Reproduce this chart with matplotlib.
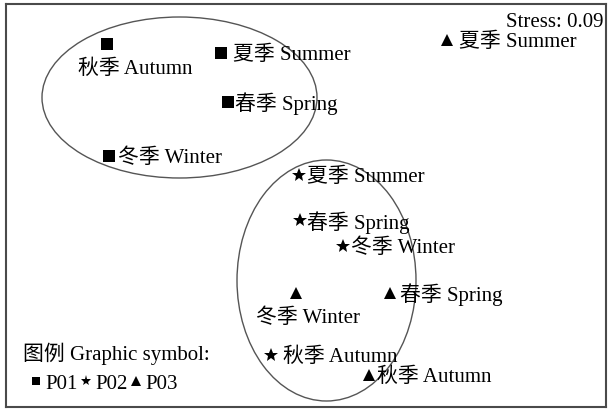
import matplotlib
matplotlib.use('Agg')
import matplotlib.pyplot as plt
from matplotlib.patches import Ellipse
from matplotlib.lines import Line2D

FAMILY = ['Liberation Serif', 'Noto Sans CJK SC', 'DejaVu Sans']
plt.rcParams['font.family'] = FAMILY

# ---- data (NMDS ordination, plot units) ----
seasons = ['春季 Spring', '夏季 Summer', '秋季 Autumn', '冬季 Winter']
groups = ['P01', 'P02', 'P03']
p01_x = [227.5, 221.0, 107.0, 109.0]
p01_y = [307.5, 356.5, 365.0, 253.0]
p02_x = [300.0, 299.0, 271.0, 343.0]
p02_y = [189.0, 234.5, 54.0, 163.5]
p03_x = [390.0, 447.0, 369.0, 296.0]
p03_y = [116.5, 369.0, 34.0, 116.5]
stress = 0.09

# clusters (ellipses): centre x, centre y, width, height
ell_cx = [179.5, 326.5]
ell_cy = [311.5, 128.5]
ell_w = [275.0, 179.0]
ell_h = [161.0, 241.0]

# ---- styling ----
markers = {'P01': 's', 'P02': '*', 'P03': '^'}
msizes = {'P01': 8.5, 'P02': 10.5, 'P03': 8.5}
# label offsets in pixels (dx, dy) relative to marker
label_off = {
    'P01': [(7.5, -1.5), (12, -1.5), (-29, -24), (9, -1.5)],
    'P02': [(7, -1.5), (8, -1.5), (12, -1.5), (7.7, -1.5)],
    'P03': [(10, -1.5), (12, -1.5), (8, -1.5), (-40, -25)],
}
FS = 15

fig = plt.figure(figsize=(6.08, 4.10), dpi=100)
ax = fig.add_axes([6 / 608, 2 / 410, 600 / 608, 403 / 410])
ax.set_xlim(6, 606)
ax.set_ylim(2, 405)
ax.set_xticks([])
ax.set_yticks([])
for sp in ax.spines.values():
    sp.set_linewidth(1.5)
    sp.set_color('#4a4a4a')

for cx, cy, w, h in zip(ell_cx, ell_cy, ell_w, ell_h):
    ax.add_patch(Ellipse((cx, cy), w, h, fill=False, edgecolor='#555555', lw=1.0))

data = {'P01': (p01_x, p01_y), 'P02': (p02_x, p02_y), 'P03': (p03_x, p03_y)}
for g in groups:
    xs, ys = data[g]
    ax.plot(xs, ys, linestyle='none', marker=markers[g], markersize=msizes[g],
            color='black', markeredgewidth=0)
    for i, (x, y) in enumerate(zip(xs, ys)):
        dx, dy = label_off[g][i]
        ax.annotate(seasons[i], (x, y), xytext=(dx, dy), textcoords='offset pixels',
                    ha='left', va='center', fontsize=FS, color='black')

ax.text(603, 387.5, f'Stress: {stress:.2f}', ha='right', va='center', fontsize=FS)

handles = [Line2D([], [], linestyle='none', marker='s', markersize=5.5, color='black', markeredgewidth=0),
           Line2D([], [], linestyle='none', marker='*', markersize=8, color='black', markeredgewidth=0),
           Line2D([], [], linestyle='none', marker='^', markersize=6.5, color='black', markeredgewidth=0)]
leg = ax.legend(handles, groups, title='图例 Graphic symbol:', loc='lower left',
                bbox_to_anchor=(23, 16), bbox_transform=ax.transData,
                ncol=3, frameon=False, borderpad=0, borderaxespad=0,
                handlelength=1.2, handletextpad=-0.15, columnspacing=-0.2,
                labelspacing=0.44, alignment='left',
                prop={'family': FAMILY, 'size': FS},
                title_fontproperties={'family': FAMILY, 'size': FS})

fig.savefig('out.png', dpi=100)
